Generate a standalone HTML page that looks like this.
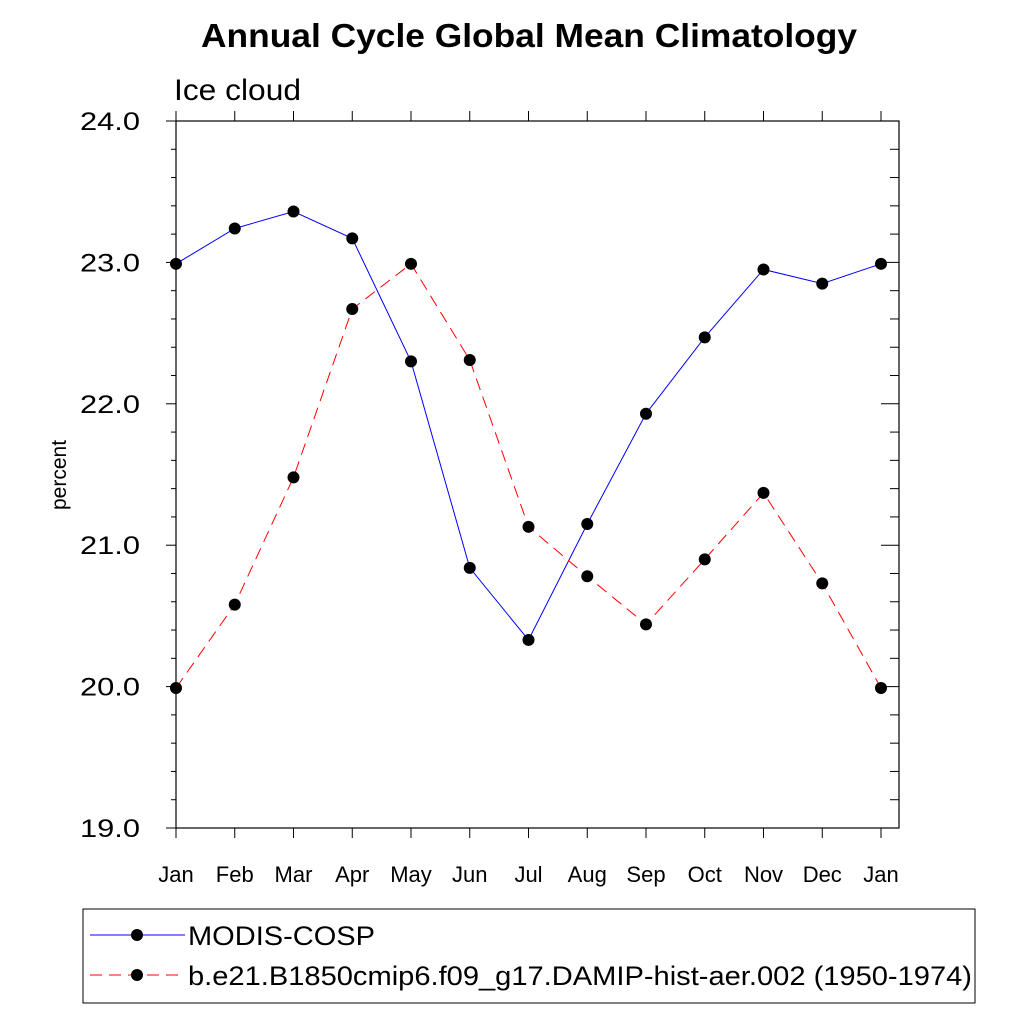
<!DOCTYPE html>
<html><head><meta charset="utf-8"><style>body{margin:0;background:#fff}svg{display:block;font-family:"Liberation Sans",sans-serif}</style></head>
<body>
<svg width="1024" height="1024">
<text x="201" y="47" font-size="33" font-weight="bold" textLength="656" lengthAdjust="spacingAndGlyphs">Annual Cycle Global Mean Climatology</text>
<text x="174" y="100" font-size="30" textLength="127" lengthAdjust="spacingAndGlyphs">Ice cloud</text>
<text transform="translate(66,475) rotate(-90)" text-anchor="middle" font-size="21">percent</text>
<rect x="176" y="121" width="723" height="707" fill="none" stroke="#000" stroke-width="1.2"/>
<g id="axes"></g><g id="series"></g>
<rect x="83" y="909" width="892" height="94" fill="none" stroke="#000" stroke-width="1"/>
<g>
<line x1="90" y1="935" x2="185" y2="935" stroke="#00f" stroke-width="1"/><circle cx="137" cy="935" r="6"/>
<text x="188" y="945" font-size="27" textLength="187" lengthAdjust="spacingAndGlyphs">MODIS-COSP</text></g>
<g>
<line x1="90" y1="975" x2="185" y2="975" stroke="#f00" stroke-width="1" stroke-dasharray="12,7"/><circle cx="137" cy="975" r="6"/>
<text x="188" y="985" font-size="27" textLength="784" lengthAdjust="spacingAndGlyphs">b.e21.B1850cmip6.f09_g17.DAMIP-hist-aer.002 (1950-1974)</text></g>
</svg>
<script>
const months=["Jan","Feb","Mar","Apr","May","Jun","Jul","Aug","Sep","Oct","Nov","Dec","Jan"];
const modis=[22.99,23.24,23.36,23.17,22.30,20.84,20.33,21.15,21.93,22.47,22.95,22.85,22.99];
const model=[19.99,20.58,21.48,22.67,22.99,22.31,21.13,20.78,20.44,20.90,21.37,20.73,19.99];
const yTicks=["19.0","20.0","21.0","22.0","23.0","24.0"];
const NS="http://www.w3.org/2000/svg";
const X=i=>176+i*(881-176)/12, Y=v=>828-(v-19)*(828-121)/5;
function mk(t,a,p){const e=document.createElementNS(NS,t);for(const k in a)e.setAttribute(k,a[k]);p.appendChild(e);return e;}
const ax=document.getElementById('axes');
months.forEach((m,i)=>{const x=X(i);
 const l=mk('line',{x1:x,y1:828,x2:x,y2:838,stroke:'#000'},ax);
 
 
 mk('line',{x1:x,y1:121,x2:x,y2:111,stroke:'#000'},ax);
 const t=mk('text',{x:x,y:882,'text-anchor':'middle','font-size':22},ax);t.textContent=m;
 
 
});
for(let k=0;k<=25;k++){const v=19+k*0.2,y=Y(v),maj=k%5===0;
 mk('line',{x1:176,y1:y,x2:maj?166:171,y2:y,stroke:'#000'},ax);
 mk('line',{x1:899,y1:y,x2:maj?881:890,y2:y,stroke:'#000'},ax);
}
yTicks.forEach(s=>{const t=mk('text',{x:80,y:Y(+s)+9,'font-size':25,textLength:60,lengthAdjust:'spacingAndGlyphs'},ax);t.textContent=s;
 
 });
const sg=document.getElementById('series');
function draw(vals,color,dash,name){
 const p=mk('polyline',{points:vals.map((v,i)=>X(i)+','+Y(v)).join(' '),fill:'none',stroke:color,'stroke-width':1,'stroke-dasharray':dash},sg);
 
 
 vals.forEach((v,i)=>{const c=mk('circle',{cx:X(i),cy:Y(v),r:6,fill:'#000'},sg);
  
  });
}
draw(modis,'#00f','none','modis');
draw(model,'#f00','12,7','model');
</script>
</body></html>
